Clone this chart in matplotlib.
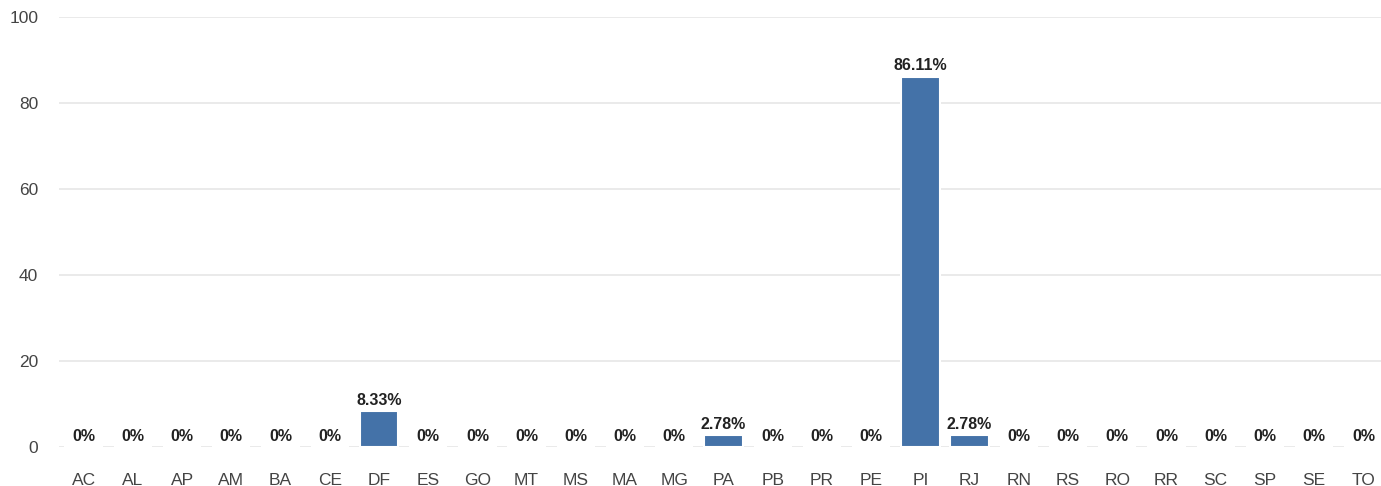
import matplotlib.pyplot as plt

states = ["AC", "AL", "AP", "AM", "BA", "CE", "DF", "ES", "GO", "MT", "MS", "MA", "MG", "PA",
          "PB", "PR", "PE", "PI", "RJ", "RN", "RS", "RO", "RR", "SC", "SP", "SE", "TO"]
percent = [0, 0, 0, 0, 0, 0, 8.33, 0, 0, 0, 0, 0, 0, 2.78,
           0, 0, 0, 86.11, 2.78, 0, 0, 0, 0, 0, 0, 0, 0]
labels = ["0%" if v == 0 else f"{v:.2f}%" for v in percent]

plt.rcParams['font.family'] = ['Liberation Sans', 'DejaVu Sans']

fig = plt.figure(figsize=(13.81, 4.86), dpi=100)
ax = fig.add_axes([59 / 1381, 39 / 486, 1329 / 1381, 430 / 486])

x = range(len(states))
ax.bar(x, percent, width=0.78, color="#4472a8", edgecolor="white", linewidth=1.5, zorder=3)

for i, (v, lab) in enumerate(zip(percent, labels)):
    ax.annotate(lab, (i, v), xytext=(0, 2.5), textcoords="offset points", ha="center", va="bottom",
                fontsize=11.5, fontweight="bold", color="#222222", zorder=4)

ax.set_xlim(-0.5, len(states) - 0.5)
ax.set_ylim(0, 100)
ax.set_yticks([0, 20, 40, 60, 80, 100])
ax.set_xticks(list(x))
ax.set_xticklabels(states)
ax.yaxis.grid(True, color="#e6e6e6", linewidth=1.2, zorder=0)
ax.set_axisbelow(True)
for s in ax.spines.values():
    s.set_visible(False)
ax.tick_params(axis="both", length=0, labelsize=12.5, colors="#444444")
ax.tick_params(axis="x", pad=19)
ax.tick_params(axis="y", pad=15)

fig.savefig("out.png", dpi=100)
